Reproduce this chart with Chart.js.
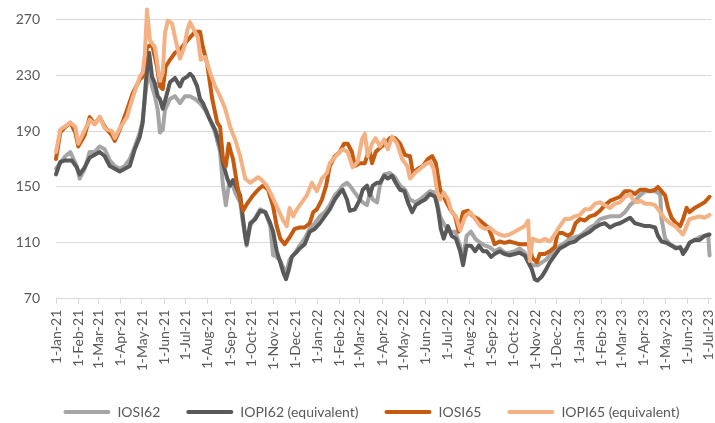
<!DOCTYPE html>
<html><head><meta charset="utf-8">
<script src="https://cdn.jsdelivr.net/npm/chart.js@4/dist/chart.umd.min.js"></script>
<style>html,body{margin:0;padding:0;background:#fff}#c{display:block}</style>
</head><body>
<canvas id="c" width="715" height="423"></canvas>
<script>
// Tick labels (month starts)
const monthLabels = ['1-Jan-21','1-Feb-21','1-Mar-21','1-Apr-21','1-May-21','1-Jun-21','1-Jul-21','1-Aug-21','1-Sep-21','1-Oct-21','1-Nov-21','1-Dec-21',
  '1-Jan-22','1-Feb-22','1-Mar-22','1-Apr-22','1-May-22','1-Jun-22','1-Jul-22','1-Aug-22','1-Sep-22','1-Oct-22','1-Nov-22','1-Dec-22',
  '1-Jan-23','1-Feb-23','1-Mar-23','1-Apr-23','1-May-23','1-Jun-23','1-Jul-23'];
const seriesNames = ['IOSI62', 'IOPI62 (equivalent)', 'IOSI65', 'IOPI65 (equivalent)'];
const yTicks = [70, 110, 150, 190, 230, 270];

// [days since 1-Jan-21, value]
const iosi62 = [[0,163],[13,172],[20,175],[29,165],[33,156],[40,163],[47,175],[54,175],[61,179],[68,177],[75,169],[82,165],[89,163],[96,165],[103,170],[110,179],[117,189],[121,198],[126,222],[130,234],[134,222],[138,215],[142,205],[145,189],[149,191],[152,205],[159,213],[166,215],[173,210],[180,215],[187,215],[194,213],[201,210],[208,205],[215,198],[222,189],[229,175],[233,151],[237,137],[241,151],[247,151],[250,146],[257,139],[261,124],[266,108],[271,122],[278,128],[285,134],[292,132],[299,122],[303,101],[306,101],[313,97],[321,88],[326,98],[335,104],[340,108],[347,113],[354,120],[361,124],[368,129],[375,132],[382,137],[389,144],[396,148],[400,151],[406,153],[410,151],[417,146],[424,141],[428,139],[434,137],[438,146],[442,141],[448,139],[452,151],[458,159],[466,160],[473,157],[480,151],[487,148],[494,141],[501,139],[508,141],[515,144],[522,147],[529,146],[536,129],[543,122],[550,118],[557,118],[564,108],[568,98],[573,115],[579,118],[585,113],[592,110],[599,108],[605,107],[612,104],[619,106],[626,103],[633,103],[640,104],[647,106],[654,103],[659,98],[664,94],[672,94],[678,96],[684,98],[689,101],[696,104],[703,108],[710,110],[717,113],[724,114],[731,115],[738,118],[745,121],[752,123],[759,127],[766,128],[773,129],[787,129],[794,132],[801,137],[808,140],[815,144],[822,147],[836,147],[843,145],[845,127],[850,113],[857,109],[864,107],[871,106],[878,104],[884,110],[891,112],[898,114],[905,115],[910,116],[912,101]];

const iopi62 = [[0,159],[6,168],[13,169],[22,169],[29,164],[33,159],[40,164],[47,171],[54,173],[61,175],[68,172],[75,165],[82,163],[89,161],[96,163],[103,165],[110,177],[117,186],[121,196],[126,229],[130,246],[134,229],[138,224],[142,215],[145,213],[149,206],[155,217],[159,225],[166,228],[173,222],[177,227],[183,229],[187,231],[191,229],[197,222],[201,213],[205,210],[211,203],[215,198],[222,191],[229,179],[233,167],[239,156],[243,151],[247,155],[253,148],[257,144],[261,127],[264,115],[266,109],[271,124],[278,127],[285,133],[292,132],[299,124],[303,118],[308,104],[313,96],[317,89],[321,84],[325,91],[329,100],[335,103],[340,106],[347,109],[354,118],[361,120],[368,124],[375,129],[382,134],[389,141],[396,146],[400,148],[406,141],[410,133],[417,134],[424,141],[428,148],[434,151],[438,144],[442,151],[448,153],[452,153],[458,158],[463,156],[469,158],[474,153],[480,148],[486,147],[491,139],[497,132],[502,137],[508,139],[515,141],[522,145],[529,143],[533,134],[537,120],[541,113],[547,122],[552,115],[558,113],[564,104],[568,94],[573,108],[579,108],[585,104],[590,108],[596,104],[601,104],[607,100],[612,102],[619,104],[626,102],[633,101],[640,102],[647,103],[654,101],[659,96],[664,91],[668,84],[672,83],[678,86],[684,91],[689,96],[696,101],[703,106],[710,108],[717,110],[724,111],[731,114],[738,116],[745,118],[752,121],[759,123],[766,124],[773,121],[780,123],[787,124],[794,126],[801,128],[808,124],[815,123],[822,122],[829,122],[836,121],[840,115],[845,111],[852,110],[859,108],[865,106],[871,107],[875,102],[880,106],[884,110],[891,112],[898,112],[905,115],[912,116]];

const iosi65 = [[0,170],[6,189],[13,193],[20,196],[27,189],[31,179],[40,187],[47,200],[54,195],[61,200],[68,193],[78,187],[82,183],[89,191],[99,205],[107,217],[117,227],[121,229],[127,250],[134,252],[141,236],[145,222],[149,220],[153,236],[159,241],[166,246],[173,248],[180,253],[187,257],[194,261],[201,261],[205,250],[211,238],[218,213],[225,196],[229,193],[233,170],[237,165],[241,181],[244,175],[247,170],[253,151],[257,141],[261,133],[268,139],[275,144],[282,148],[289,151],[296,148],[303,136],[308,122],[313,113],[319,109],[326,114],[333,120],[340,121],[347,121],[354,124],[359,132],[364,134],[371,141],[377,151],[382,165],[389,172],[396,175],[402,181],[407,181],[413,175],[417,165],[424,167],[431,167],[437,177],[441,167],[446,175],[452,178],[459,181],[466,185],[473,185],[480,181],[487,173],[494,172],[498,160],[505,163],[512,165],[519,170],[525,172],[530,167],[536,148],[543,141],[550,134],[557,129],[562,118],[568,132],[575,133],[582,129],[589,127],[596,124],[603,121],[608,115],[612,109],[619,111],[626,110],[633,111],[640,110],[647,109],[654,109],[659,109],[665,99],[671,96],[675,102],[682,102],[689,104],[696,107],[700,117],[707,117],[714,115],[720,117],[725,124],[731,127],[738,126],[745,129],[752,130],[759,133],[766,137],[773,140],[787,143],[794,147],[801,147],[808,145],[815,148],[822,148],[829,147],[836,148],[840,150],[845,147],[850,144],[854,135],[859,128],[865,124],[871,122],[875,127],[880,135],[884,132],[891,135],[898,137],[905,139],[912,143]];

const iopi65 = [[0,175],[6,191],[20,196],[27,193],[31,181],[47,198],[54,195],[61,200],[68,192],[78,190],[82,185],[89,192],[99,200],[107,214],[117,229],[121,232],[124,245],[127,277],[131,255],[134,253],[138,250],[145,226],[149,232],[152,260],[156,269],[162,267],[167,255],[173,242],[179,250],[183,262],[187,268],[193,262],[198,257],[202,241],[208,243],[215,232],[222,222],[229,215],[236,206],[243,193],[250,184],[257,172],[264,156],[271,153],[282,157],[287,155],[294,151],[301,144],[310,134],[317,126],[322,122],[326,135],[331,129],[336,134],[343,139],[350,144],[357,153],[364,147],[371,156],[378,160],[382,167],[392,173],[400,177],[407,175],[414,164],[421,168],[427,184],[431,188],[435,172],[441,181],[446,185],[452,179],[458,184],[463,177],[469,186],[476,181],[483,170],[490,165],[494,156],[501,160],[508,163],[515,166],[522,168],[527,163],[532,146],[536,141],[541,146],[547,141],[552,132],[558,129],[564,119],[571,129],[578,132],[585,127],[592,122],[599,120],[605,121],[612,118],[619,116],[626,115],[633,116],[640,118],[647,120],[654,122],[659,126],[661,97],[665,113],[675,111],[682,113],[689,111],[696,116],[703,122],[710,127],[717,127],[724,129],[731,130],[738,134],[745,134],[752,138],[759,139],[766,137],[773,135],[780,138],[787,139],[794,143],[801,145],[805,141],[811,139],[816,140],[822,138],[829,138],[836,137],[843,132],[850,127],[857,124],[864,122],[871,118],[875,116],[880,122],[884,127],[891,128],[898,129],[905,128],[912,130]];

const monNames = ['Jan','Feb','Mar','Apr','May','Jun','Jul','Aug','Sep','Oct','Nov','Dec'];
const t0 = Date.UTC(2021, 0, 1);
const monthDays = monthLabels.map(l => {
  const p = l.split('-');
  return (Date.UTC(2000 + (+p[2]), monNames.indexOf(p[1]), +p[0]) - t0) / 86400000;
});
const toXY = arr => arr.map(p => ({x: p[0], y: p[1]}));

const font = {family: 'Lato, "Open Sans", sans-serif', size: 14};
const txt = '#595959';
const colors = ['#A5A5A5', '#595959', '#C55A11', '#F4B183'];
const seriesData = [iosi62, iopi62, iosi65, iopi65];

const legendShift = {
  id: 'legendShift',
  afterLayout(chart) {
    const lg = chart.legend;
    if (!lg) return;
    lg.left += 8; lg.right += 8;
    lg.top += 9; lg.bottom += 9;
  }
};

new Chart(document.getElementById('c'), {
  type: 'line',
  data: {
    datasets: seriesData.map((d, i) => ({
      label: seriesNames[i],
      data: toXY(d),
      borderColor: colors[i],
      backgroundColor: colors[i],
      order: 4 - i
    }))
  },
  options: {
    responsive: false,
    animation: false,
    layout: {padding: {left: 16, right: 4, top: 19.3, bottom: 3}},
    elements: {
      point: {radius: 0},
      line: {borderWidth: 4, tension: 0, borderJoinStyle: 'round', borderCapStyle: 'round'}
    },
    datasets: {line: {clip: false}},
    scales: {
      x: {
        type: 'linear', min: 0, max: 914,
        afterBuildTicks: s => { s.ticks = monthDays.map(v => ({value: v})); },
        afterFit: s => { s.paddingLeft = 0; s.paddingRight = 0; s.height -= 7.3; },
        ticks: {autoSkip: false, maxRotation: 90, minRotation: 90, font, color: txt, padding: 6,
          callback: (v, i) => monthLabels[i]},
        grid: {drawOnChartArea: false, drawTicks: true, tickLength: 5, color: '#D9D9D9'},
        border: {color: '#D9D9D9'}
      },
      y: {
        min: yTicks[0], max: yTicks[yTicks.length - 1],
        afterBuildTicks: s => { s.ticks = yTicks.map(v => ({value: v})); },
        afterFit: s => { s.width = 40; s.paddingTop = 0; s.paddingBottom = 0; },
        ticks: {font, color: txt, padding: 16},
        grid: {color: '#D9D9D9', drawTicks: false},
        border: {display: false}
      }
    },
    plugins: {
      tooltip: {enabled: false},
      legend: {
        position: 'bottom',
        labels: {
          boxWidth: 47, boxHeight: 4, font, color: txt, padding: 26,
          sort: (a, b) => a.datasetIndex - b.datasetIndex,
          generateLabels: chart => Chart.defaults.plugins.legend.labels.generateLabels(chart).map(it => Object.assign(it, {lineWidth: 0, borderRadius: 2}))
        }
      }
    }
  },
  plugins: [legendShift]
});
</script>
</body></html>
